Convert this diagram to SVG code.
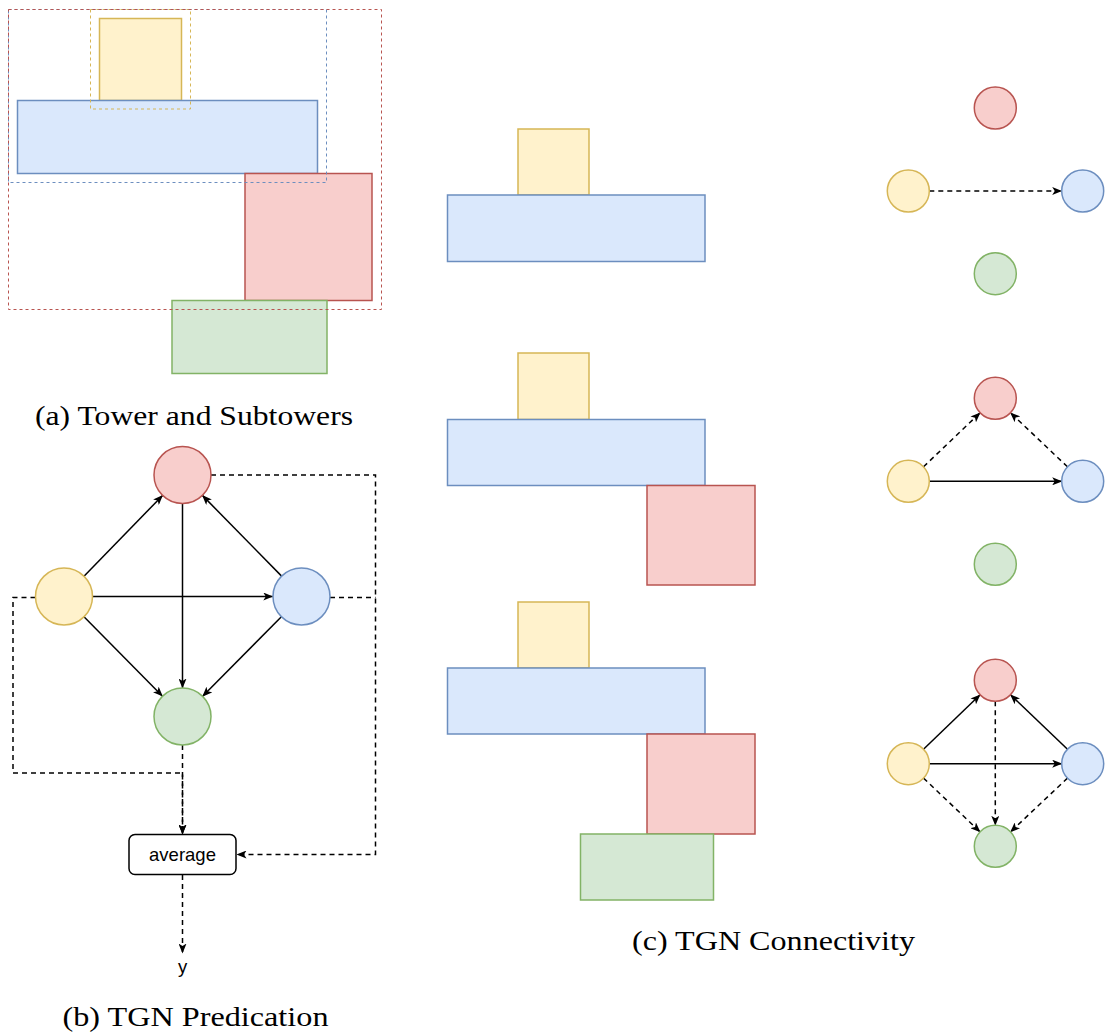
<svg xmlns="http://www.w3.org/2000/svg" width="1105" height="1036" viewBox="0 0 1105 1036">
  <defs>
    <!-- classic notched arrowhead, tip at the path end -->
    <marker id="arrow" viewBox="0 0 10 8" refX="9.5" refY="4" markerWidth="10" markerHeight="8" markerUnits="userSpaceOnUse" orient="auto">
      <path d="M0,0 L10,4 L0,8 L2.5,4 z" fill="#000"/>
    </marker>
    <style>
      .y { fill: #fff2cc; stroke: #d6b656; stroke-width: 1.5; }
      .b { fill: #dae8fc; stroke: #6c8ebf; stroke-width: 1.5; }
      .r { fill: #f8cecc; stroke: #b85450; stroke-width: 1.5; }
      .g { fill: #d5e8d4; stroke: #82b366; stroke-width: 1.5; }
      .box { fill: none; stroke-width: 1; stroke-dasharray: 3 3; }
      .edge { fill: none; stroke: #000; stroke-width: 1.5; }
      .dash { stroke-dasharray: 5 4; }
      .arr { marker-end: url(#arrow); }
      .cap { font-family: "Liberation Serif", "DejaVu Serif", serif; font-size: 28px; fill: #000; }
      .lbl { font-family: "Liberation Sans", Arial, sans-serif; font-size: 18.5px; fill: #000; }
    </style>
  </defs>
  <rect width="1105" height="1036" fill="#fff"/>

  <!-- (a) tower with subtower bounding boxes -->
  <g id="tower-a">
    <rect id="a-yellow" class="y" x="99.5" y="18.5" width="82" height="82"/>
    <rect id="a-blue" class="b" x="17.5" y="100.5" width="300" height="73"/>
    <rect id="a-red" class="r" x="245" y="173.5" width="127" height="127"/>
    <rect id="a-green" class="g" x="172" y="300.5" width="155" height="73"/>
    <rect id="a-box-yellow" class="box" stroke="#d6b656" x="90.5" y="9.5" width="100" height="99.5"/>
    <rect id="a-box-blue" class="box" stroke="#6c8ebf" x="8.5" y="9.5" width="318" height="173"/>
    <rect id="a-box-red" class="box" stroke="#b85450" x="8.5" y="9.5" width="373" height="300"/>
  </g>
  <text class="cap" x="194" y="425" text-anchor="middle" textLength="318" lengthAdjust="spacingAndGlyphs">(a) Tower and Subtowers</text>

  <!-- (b) prediction graph -->
  <g id="b-connectors">
    <line class="edge arr" x1="84" y1="576.2" x2="162.6" y2="495.4"/>
    <line class="edge arr" x1="92.5" y1="596.5" x2="272.8" y2="596.5"/>
    <line class="edge arr" x1="84" y1="616.8" x2="162.5" y2="696.2"/>
    <line class="edge arr" x1="182.5" y1="503.5" x2="182.5" y2="688"/>
    <line class="edge arr" x1="281.6" y1="576.1" x2="202.4" y2="495.4"/>
    <line class="edge arr" x1="281.4" y1="616.7" x2="202.6" y2="696.3"/>
    <polyline class="edge dash arr" points="211,475 375.5,475 375.5,854.5 237,854.5"/>
    <polyline class="edge dash" points="330,597.5 375.5,597.5"/>
    <polyline class="edge dash arr" points="35.5,597.5 13,597.5 13,773 182.5,773 182.5,834"/>
    <polyline class="edge dash arr" points="182.5,745 182.5,834"/>
    <polyline class="edge dash arr" points="182.5,875 182.5,953"/>
  </g>
  <g id="b-red"><circle class="r" cx="182.5" cy="475" r="28.5"/></g>
  <g id="b-yellow"><circle class="y" cx="64" cy="596.5" r="28.5"/></g>
  <g id="b-blue"><circle class="b" cx="301.5" cy="596.5" r="28.5"/></g>
  <g id="b-green"><circle class="g" cx="182.5" cy="716.5" r="28.5"/></g>
  <g id="b-average">
    <rect x="129" y="834.5" width="107" height="40" rx="6" fill="#fff" stroke="#000" stroke-width="1.5"/>
    <text class="lbl" x="182.5" y="861" text-anchor="middle">average</text>
  </g>
  <g id="b-y"><text class="lbl" x="182.5" y="973" text-anchor="middle">y</text></g>
  <text class="cap" x="195.5" y="1026" text-anchor="middle" textLength="266" lengthAdjust="spacingAndGlyphs">(b) TGN Predication</text>

  <!-- (c) towers and their connectivity -->
  <g id="c-tower-1">
    <rect class="y" x="518" y="129" width="71" height="66"/>
    <rect class="b" x="447.5" y="195" width="257.5" height="66.5"/>
  </g>
  <g id="c-tower-2">
    <rect class="y" x="518" y="353" width="71" height="66.5"/>
    <rect class="b" x="447.5" y="419.5" width="257.5" height="66"/>
    <rect class="r" x="647" y="485.5" width="108" height="99.5"/>
  </g>
  <g id="c-tower-3">
    <rect class="y" x="518" y="602" width="71" height="66"/>
    <rect class="b" x="447.5" y="668" width="257.5" height="66"/>
    <rect class="r" x="647" y="734" width="108" height="100"/>
    <rect class="g" x="580.5" y="834" width="133" height="66"/>
  </g>

  <g id="c-connectors">
    <!-- graph 1 -->
    <line class="edge dash arr" x1="929.3" y1="191" x2="1061.7" y2="191"/>
    <!-- graph 2 -->
    <line class="edge dash arr" x1="923.5" y1="466.8" x2="980.1" y2="412.8"/>
    <line class="edge dash arr" x1="1067.5" y1="466.8" x2="1010.5" y2="412.8"/>
    <line class="edge arr" x1="929.3" y1="481.3" x2="1061.7" y2="481.3"/>
    <!-- graph 3 -->
    <line class="edge arr" x1="923.5" y1="749.2" x2="980.1" y2="694.8"/>
    <line class="edge arr" x1="1067.5" y1="749.2" x2="1010.5" y2="694.8"/>
    <line class="edge arr" x1="929.3" y1="763.7" x2="1061.7" y2="763.7"/>
    <line class="edge dash arr" x1="995.3" y1="701.3" x2="995.3" y2="825.3"/>
    <line class="edge dash arr" x1="923.5" y1="778.1" x2="980.1" y2="831.9"/>
    <line class="edge dash arr" x1="1067.5" y1="778.1" x2="1010.5" y2="831.9"/>
  </g>

  <g id="c1-red"><circle class="r" cx="995.3" cy="108" r="21"/></g>
  <g id="c1-yellow"><circle class="y" cx="908.3" cy="191" r="21"/></g>
  <g id="c1-blue"><circle class="b" cx="1082.7" cy="191" r="21"/></g>
  <g id="c1-green"><circle class="g" cx="995.3" cy="273.7" r="21"/></g>

  <g id="c2-red"><circle class="r" cx="995.3" cy="398.3" r="21"/></g>
  <g id="c2-yellow"><circle class="y" cx="908.3" cy="481.3" r="21"/></g>
  <g id="c2-blue"><circle class="b" cx="1082.7" cy="481.3" r="21"/></g>
  <g id="c2-green"><circle class="g" cx="995.3" cy="564.3" r="21"/></g>

  <g id="c3-red"><circle class="r" cx="995.3" cy="680.3" r="21"/></g>
  <g id="c3-yellow"><circle class="y" cx="908.3" cy="763.7" r="21"/></g>
  <g id="c3-blue"><circle class="b" cx="1082.7" cy="763.7" r="21"/></g>
  <g id="c3-green"><circle class="g" cx="995.3" cy="846.3" r="21"/></g>

  <text class="cap" x="773.5" y="950" text-anchor="middle" textLength="283" lengthAdjust="spacingAndGlyphs">(c) TGN Connectivity</text>
</svg>
